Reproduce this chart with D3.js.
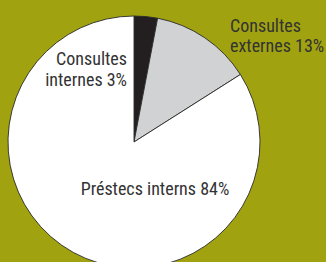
<!DOCTYPE html>
<html>
<head>
<meta charset="utf-8">
<script src="https://cdn.jsdelivr.net/npm/d3@7"></script>
<style>
  html, body { margin: 0; padding: 0; background: #a0a210; }
  svg { display: block; }
  text { font-family: "Liberation Sans Narrow", "Roboto Condensed", Arial, sans-serif; font-stretch: condensed; fill: #333333; }
</style>
</head>
<body>
<script>
  // slice data, clockwise from 12 o'clock
  let categories = ["Consultes internes", "Consultes externes", "Préstecs interns"];
  let shares = [3, 13, 84];
  let colours = ["#231f20", "#d1d2d4", "#ffffff"];

  // label lines per slice
  let labelLines = [
    ["Consultes", "internes 3%"],
    ["Consultes", "externes 13%"],
    ["Préstecs interns 84%"]
  ];

  window.onload = function() {
    let width = 326, height = 262;
    let svg = d3.select('body').append('svg')
      .attr('width', width)
      .attr('height', height);

    let cx = 134, cy = 142, r = 126;

    let pie = d3.pie().sort(null).value((d) => d.value);
    let arc = d3.arc().innerRadius(0).outerRadius(r);

    let rows = categories.map((c, i) => ({ name: c, value: shares[i], colour: colours[i] }));

    let g = svg.append('g').attr('transform', 'translate(' + cx + ',' + cy + ')');
    g.selectAll('path')
      .data(pie(rows))
      .enter()
      .append('path')
        .attr('d', arc)
        .attr('fill', (d) => d.data.colour)
        .attr('stroke', '#2a2a2a')
        .attr('stroke-width', 0.9)
        .attr('stroke-linejoin', 'round');

    // labels: position, anchor, line gap
    let labelPos = [
      { x: 127, y: 65, anchor: 'end', gap: 21 },
      { x: 230, y: 32, anchor: 'start', gap: 20 },
      { x: 155, y: 195, anchor: 'middle', gap: 0 }
    ];

    labelLines.forEach((lines, i) => {
      let t = svg.append('text')
        .attr('x', labelPos[i].x)
        .attr('y', labelPos[i].y)
        .attr('text-anchor', labelPos[i].anchor)
        .style('font-size', '18px');
      lines.forEach((line, j) => {
        t.append('tspan')
          .attr('x', labelPos[i].x)
          .attr('dy', j == 0 ? 0 : labelPos[i].gap)
          .text(line);
      });
    });
  }
</script>
</body>
</html>
